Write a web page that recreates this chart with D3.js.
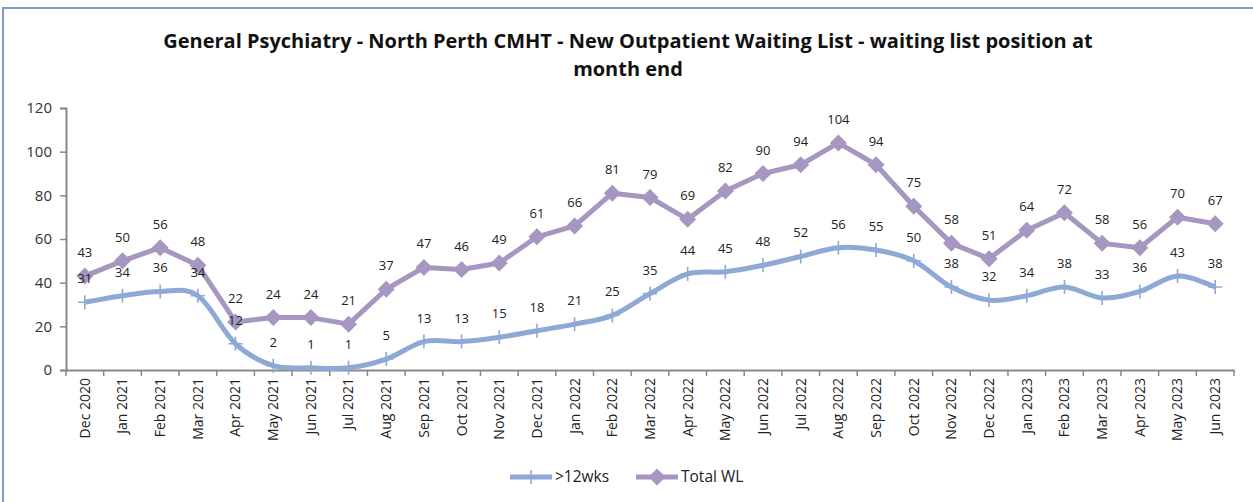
<!DOCTYPE html>
<html><head><meta charset="utf-8">
<script src="https://cdn.jsdelivr.net/npm/d3@7"></script>
<style>body{margin:0;background:#fff;}svg{display:block;}</style>
</head><body>
<svg id="chart" width="1253" height="502"></svg>
<script>
const months = ["Dec 2020","Jan 2021","Feb 2021","Mar 2021","Apr 2021","May 2021","Jun 2021","Jul 2021","Aug 2021","Sep 2021","Oct 2021","Nov 2021","Dec 2021","Jan 2022","Feb 2022","Mar 2022","Apr 2022","May 2022","Jun 2022","Jul 2022","Aug 2022","Sep 2022","Oct 2022","Nov 2022","Dec 2022","Jan 2023","Feb 2023","Mar 2023","Apr 2023","May 2023","Jun 2023"];
const over12wks = [31,34,36,34,12,2,1,1,5,13,13,15,18,21,25,35,44,45,48,52,56,55,50,38,32,34,38,33,36,43,38];
const totalWL = [43,50,56,48,22,24,24,21,37,47,46,49,61,66,81,79,69,82,90,94,104,94,75,58,51,64,72,58,56,70,67];
const yTicks = [0,20,40,60,80,100,120];
const seriesNames = [">12wks","Total WL"];
const titleLines = ["General Psychiatry - North Perth CMHT - New Outpatient Waiting List - waiting list position at","month end"];

const svg = d3.select("#chart");
const font = "'Open Sans', 'Liberation Sans', Arial, sans-serif";
const blue = "#8ea9d5", purple = "#a597c0", axisCol = "#888";

// frame
svg.append("rect").attr("x",3).attr("y",8).attr("width",1300).attr("height",600)
  .attr("fill","none").attr("stroke","#7b9bcb").attr("stroke-width",2);

// title
const title = svg.append("text").attr("text-anchor","middle").attr("font-family",font)
  .attr("font-weight","bold").attr("font-size",17).attr("fill","#111");
titleLines.forEach((t,i)=>title.append("tspan").attr("x",628).attr("y",48+i*28).text(t));
const t0 = title.select("tspan").node();
const w0 = t0.getComputedTextLength();
if (w0 > 0) title.attr("font-size", 17 * 930 / w0);

const x = d3.scaleBand().domain(months).range([66,1234]);
const y = d3.scaleLinear().domain([0,120]).range([370,108]);
const cx = d => x(d) + x.bandwidth()/2;

// y axis
const yAxis = svg.append("g").attr("transform","translate(66,0)")
  .call(d3.axisLeft(y).tickValues(yTicks).tickSize(6).tickPadding(8));
yAxis.select(".domain").attr("stroke",axisCol).attr("stroke-width",2);
yAxis.selectAll(".tick line").attr("stroke",axisCol).attr("stroke-width",1.5);
yAxis.selectAll("text").attr("font-family",font).attr("font-size",15).attr("fill","#333");

// x axis
const xAxis = svg.append("g").attr("transform","translate(0,370)")
  .call(d3.axisBottom(x).tickSize(0).tickPadding(0));
xAxis.select(".domain").attr("stroke",axisCol).attr("stroke-width",2);
xAxis.selectAll(".tick text").attr("font-family",font).attr("font-size",14).attr("fill","#222")
  .attr("transform","rotate(-90)").attr("text-anchor","end").attr("x",-8).attr("y",0).attr("dy","0.35em");
// boundary ticks
const bounds = months.map(m=>x(m)).concat([x(months[months.length-1])+x.bandwidth()]);
svg.append("g").selectAll("line").data(bounds).join("line")
  .attr("x1",d=>d).attr("x2",d=>d).attr("y1",370).attr("y2",376)
  .attr("stroke",axisCol).attr("stroke-width",1.5);

// lines
const lineSmooth = d3.line().x((d,i)=>cx(months[i])).y(d=>y(d)).curve(d3.curveCatmullRom.alpha(0));
const lineStraight = d3.line().x((d,i)=>cx(months[i])).y(d=>y(d));
svg.append("path").datum(over12wks).attr("d",lineSmooth).attr("fill","none")
  .attr("stroke",blue).attr("stroke-width",5).attr("stroke-linejoin","round");
svg.append("path").datum(totalWL).attr("d",lineStraight).attr("fill","none")
  .attr("stroke",purple).attr("stroke-width",5).attr("stroke-linejoin","round");

// markers
const plus = (g,px,py,s)=>g.append("path").attr("d",`M${px-s},${py}H${px+s}M${px},${py-s}V${py+s}`)
  .attr("stroke",blue).attr("stroke-width",1.6);
const diamond = (g,px,py,s)=>g.append("path").attr("d",`M${px},${py-s}L${px+s},${py}L${px},${py+s}L${px-s},${py}Z`)
  .attr("fill",purple);
const mk = svg.append("g");
over12wks.forEach((v,i)=>plus(mk,cx(months[i]),y(v),7));
totalWL.forEach((v,i)=>diamond(mk,cx(months[i]),y(v),8.5));

// labels
const lab = svg.append("g").attr("font-family",font).attr("font-size",13).attr("fill","#222").attr("text-anchor","middle");
over12wks.forEach((v,i)=>lab.append("text").attr("x",cx(months[i])).attr("y",y(v)-19).text(v));
totalWL.forEach((v,i)=>lab.append("text").attr("x",cx(months[i])).attr("y",y(v)-19).text(v));

// legend
const lg = svg.append("g");
lg.append("line").attr("x1",510).attr("x2",552).attr("y1",477).attr("y2",477).attr("stroke",blue).attr("stroke-width",5);
plus(lg,531,477,7);
lg.append("text").attr("x",555).attr("y",482).attr("font-family",font).attr("font-size",15.5).attr("fill","#222").text(seriesNames[0]);
lg.append("line").attr("x1",636).attr("x2",678).attr("y1",477).attr("y2",477).attr("stroke",purple).attr("stroke-width",5);
diamond(lg,657,477,8.5);
lg.append("text").attr("x",681).attr("y",482).attr("font-family",font).attr("font-size",15.5).attr("fill","#222").text(seriesNames[1]);
</script>
</body></html>
